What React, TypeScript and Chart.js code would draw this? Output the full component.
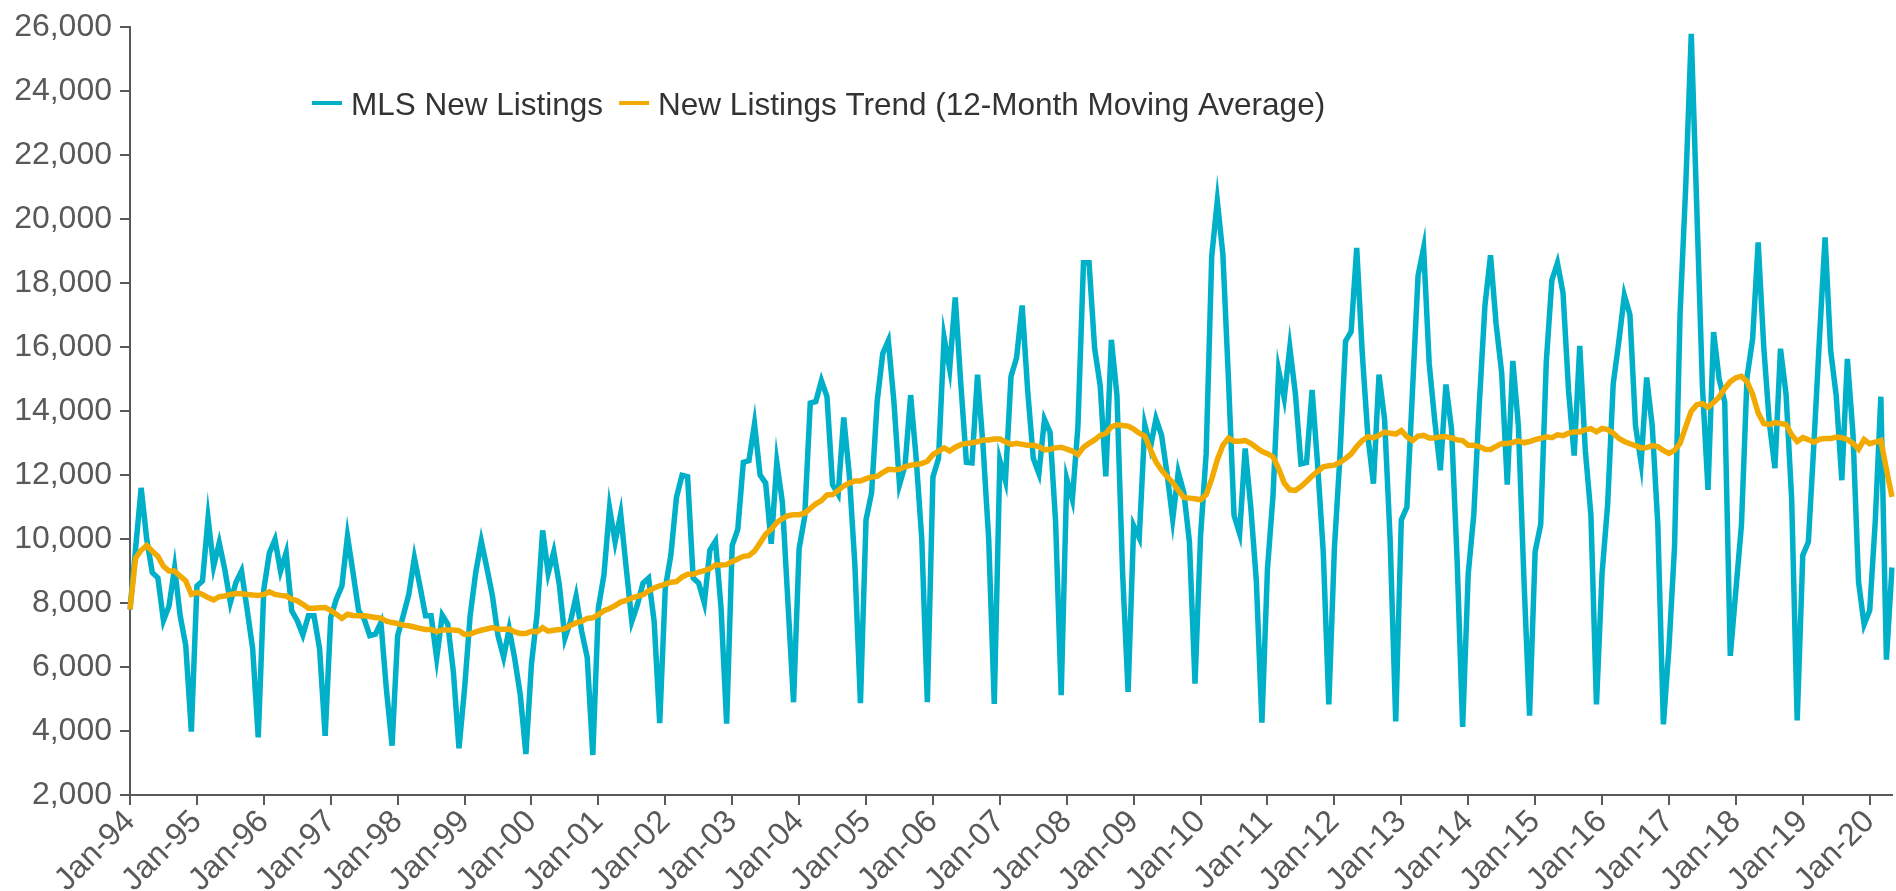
import React, { useEffect, useRef } from 'react';
import { Chart, registerables } from 'chart.js';

Chart.register(...registerables);

// ---------- categories ----------
const MONTHS = ['Jan', 'Feb', 'Mar', 'Apr', 'May', 'Jun', 'Jul', 'Aug', 'Sep', 'Oct', 'Nov', 'Dec'];
const YEAR_SUFFIXES = ['94', '95', '96', '97', '98', '99', '00', '01', '02', '03', '04', '05', '06',
  '07', '08', '09', '10', '11', '12', '13', '14', '15', '16', '17', '18', '19', '20'];

// ---------- MLS New Listings (monthly) ----------
const NL_1994 = [7800, 9700, 11600, 10000, 8950, 8790, 7450, 7910, 9100, 7600, 6670, 3980];
const NL_1995 = [8530, 8690, 10650, 9150, 9880, 9050, 8020, 8640, 9000, 7810, 6570, 3800];
const NL_1996 = [8430, 9570, 9980, 9000, 9570, 7760, 7450, 7000, 7600, 7600, 6570, 3850];
const NL_1997 = [7550, 8120, 8530, 10090, 8950, 7760, 7500, 6980, 7030, 7390, 5270, 3540];
const NL_1998 = [6980, 7600, 8270, 9410, 8530, 7600, 7600, 6280, 7620, 7340, 5840, 3460];
const NL_1999 = [5320, 7600, 8950, 9930, 9100, 8220, 6980, 6310, 7190, 6260, 5120, 3280];
const NL_2000 = [6100, 7640, 10270, 8930, 9600, 8570, 6900, 7430, 8210, 7120, 6300, 3250];
const NL_2001 = [7850, 8880, 10970, 9910, 10790, 9090, 7430, 7950, 8620, 8780, 7430, 4250];
const NL_2002 = [8470, 9500, 11300, 11990, 11950, 8780, 8620, 8000, 9650, 9930, 7850, 4230];
const NL_2003 = [9800, 10300, 12400, 12450, 13600, 12000, 11750, 9850, 12400, 11150, 8000, 4900];
const NL_2004 = [9700, 10700, 14250, 14300, 14950, 14450, 11700, 11400, 13800, 12000, 9200, 4870];
const NL_2005 = [10600, 11450, 14300, 15800, 16200, 14300, 11700, 12300, 14500, 12500, 10000, 4900];
const NL_2006 = [11940, 12520, 16300, 15320, 17550, 14850, 12400, 12380, 15140, 12870, 10000, 4850];
const NL_2007 = [12460, 11820, 15080, 15670, 17300, 14620, 12520, 12050, 13740, 13340, 10540, 5120];
const NL_2008 = [11880, 11240, 13510, 18640, 18640, 15960, 14790, 11960, 16230, 14500, 9000, 5220];
const NL_2009 = [10420, 10040, 13570, 12860, 13760, 13250, 12030, 10620, 12090, 11450, 9910, 5480];
const NL_2010 = [10100, 12670, 18840, 20570, 18900, 15000, 10740, 10170, 12830, 11000, 8690, 4260];
const NL_2011 = [9080, 11390, 15270, 14410, 15990, 14550, 12350, 12390, 14660, 12300, 9600, 4830];
const NL_2012 = [9720, 12600, 16190, 16480, 19100, 15800, 13220, 11730, 15140, 13740, 9960, 4300];
const NL_2013 = [10600, 11000, 14620, 18230, 19100, 15490, 13690, 12150, 14830, 13450, 9370, 4130];
const NL_2014 = [8910, 10770, 14270, 17300, 18870, 16720, 15200, 11700, 15570, 13530, 8700, 4480];
const NL_2015 = [9610, 10460, 15540, 18090, 18630, 17700, 14620, 12610, 16040, 12770, 10760, 4830];
const NL_2016 = [8910, 11070, 14850, 16160, 17620, 17010, 13540, 12380, 15050, 13540, 10460, 4210];
const NL_2017 = [6600, 9760, 17080, 21000, 25790, 20300, 14770, 11540, 16470, 15000, 14290, 6350];
const NL_2018 = [8400, 10440, 15060, 16250, 19270, 16010, 13640, 12220, 15950, 14530, 11270, 4330];
const NL_2019 = [9490, 9910, 13000, 16300, 19430, 15890, 14470, 11840, 15630, 13290, 8660, 7330];
const NL_2020 = [7770, 10560, 14450, 6230, 9110];

// ---------- New Listings Trend (12-month moving average) ----------
const MA_1994 = [7800, 9400, 9650, 9800, 9620, 9460, 9150, 9000, 9000, 8840, 8690, 8270];
const MA_1995 = [8330, 8270, 8170, 8100, 8200, 8220, 8270, 8300, 8290, 8270, 8250, 8240];
const MA_1996 = [8270, 8350, 8270, 8240, 8220, 8120, 8070, 7960, 7840, 7840, 7850, 7860];
const MA_1997 = [7770, 7650, 7520, 7650, 7610, 7600, 7600, 7580, 7550, 7530, 7430, 7390];
const MA_1998 = [7360, 7310, 7290, 7250, 7210, 7170, 7170, 7110, 7160, 7160, 7160, 7140];
const MA_1999 = [7020, 7030, 7100, 7150, 7190, 7230, 7190, 7180, 7190, 7100, 7050, 7050];
const MA_2000 = [7120, 7100, 7230, 7120, 7150, 7170, 7200, 7300, 7380, 7430, 7520, 7540];
const MA_2001 = [7640, 7760, 7830, 7920, 8030, 8080, 8160, 8210, 8260, 8380, 8470, 8540];
const MA_2002 = [8590, 8650, 8670, 8810, 8900, 8900, 8970, 9010, 9080, 9190, 9190, 9200];
const MA_2003 = [9300, 9380, 9460, 9480, 9620, 9880, 10150, 10310, 10520, 10640, 10730, 10760];
const MA_2004 = [10760, 10810, 10960, 11100, 11200, 11380, 11390, 11520, 11660, 11750, 11815, 11815];
const MA_2005 = [11890, 11940, 11960, 12080, 12180, 12170, 12180, 12260, 12310, 12330, 12360, 12430];
const MA_2006 = [12640, 12750, 12850, 12750, 12870, 12950, 12990, 13010, 13040, 13100, 13100, 13130];
const MA_2007 = [13130, 13040, 12960, 12990, 12960, 12930, 12930, 12890, 12790, 12810, 12850, 12870];
const MA_2008 = [12810, 12750, 12640, 12870, 12990, 13100, 13240, 13300, 13510, 13570, 13550, 13530];
const MA_2009 = [13440, 13310, 13220, 12800, 12410, 12160, 11950, 11770, 11520, 11300, 11280, 11260];
const MA_2010 = [11230, 11390, 11880, 12480, 12930, 13160, 13060, 13060, 13080, 12990, 12860, 12740];
const MA_2011 = [12670, 12570, 12200, 11750, 11540, 11520, 11640, 11800, 11970, 12120, 12260, 12290];
const MA_2012 = [12310, 12400, 12520, 12660, 12890, 13080, 13200, 13160, 13240, 13340, 13310, 13280];
const MA_2013 = [13390, 13200, 13080, 13220, 13240, 13160, 13160, 13200, 13200, 13160, 13100, 13080];
const MA_2014 = [12930, 12930, 12890, 12810, 12800, 12900, 12990, 12990, 13020, 13070, 13010, 13050];
const MA_2015 = [13110, 13150, 13200, 13170, 13260, 13230, 13310, 13350, 13350, 13420, 13450, 13350];
const MA_2016 = [13460, 13420, 13310, 13150, 13050, 12980, 12920, 12850, 12860, 12920, 12890, 12770];
const MA_2017 = [12680, 12770, 13000, 13510, 14000, 14200, 14230, 14120, 14270, 14440, 14710, 14920];
const MA_2018 = [15040, 15090, 14920, 14530, 13940, 13610, 13580, 13640, 13610, 13580, 13260, 13050];
const MA_2019 = [13170, 13110, 13030, 13120, 13140, 13140, 13190, 13170, 13110, 12990, 12810, 13110];
const MA_2020 = [12980, 13030, 13080, 12180, 11320];

const NEW_LISTINGS_BY_YEAR = [NL_1994, NL_1995, NL_1996, NL_1997, NL_1998, NL_1999, NL_2000, NL_2001,
  NL_2002, NL_2003, NL_2004, NL_2005, NL_2006, NL_2007, NL_2008, NL_2009, NL_2010, NL_2011, NL_2012,
  NL_2013, NL_2014, NL_2015, NL_2016, NL_2017, NL_2018, NL_2019, NL_2020];
const TREND_BY_YEAR = [MA_1994, MA_1995, MA_1996, MA_1997, MA_1998, MA_1999, MA_2000, MA_2001,
  MA_2002, MA_2003, MA_2004, MA_2005, MA_2006, MA_2007, MA_2008, MA_2009, MA_2010, MA_2011, MA_2012,
  MA_2013, MA_2014, MA_2015, MA_2016, MA_2017, MA_2018, MA_2019, MA_2020];

const LABELS: string[] = YEAR_SUFFIXES.flatMap((yy, i) =>
  NEW_LISTINGS_BY_YEAR[i].map((_, m) => `${MONTHS[m]}-${yy}`));
const NEW_LISTINGS: number[] = NEW_LISTINGS_BY_YEAR.flat();
const TREND: number[] = TREND_BY_YEAR.flat();

const SERIES_NAMES = ['MLS New Listings', 'New Listings Trend (12-Month Moving Average)'];

const Y_MIN = 2000;
const Y_MAX = 26000;
const Y_STEP = 2000;

// ---------- styles ----------
const TEAL = '#00AFC8';
const ORANGE = '#F2A900';
const AXIS = '#595959';
const TICK_TEXT = '#595959';
const LEGEND_TEXT = '#333333';
const FONT = '"Liberation Sans", Arial, Helvetica, sans-serif';

const isJan = (i: number) => typeof LABELS[i] === 'string' && LABELS[i].startsWith('Jan');

const overlayLegend = {
  id: 'overlayLegend',
  afterDraw(chart: any) {
    const ctx = chart.ctx as CanvasRenderingContext2D;
    ctx.save();
    ctx.font = `31.5px ${FONT}`;
    ctx.textBaseline = 'alphabetic';
    ctx.textAlign = 'left';
    let x = 312;
    const yLine = 103;
    const yText = 115;
    chart.data.datasets.forEach((ds: any) => {
      ctx.fillStyle = ds.borderColor;
      ctx.fillRect(x, yLine - 2, 30, 4);
      x += 39;
      ctx.fillStyle = LEGEND_TEXT;
      ctx.fillText(ds.label, x, yText);
      x += ctx.measureText(ds.label).width + 16;
    });
    ctx.restore();
  },
};

export default function App() {
  const canvasRef = useRef<HTMLCanvasElement>(null);

  useEffect(() => {
    const canvas = canvasRef.current;
    if (!canvas) return;
    const chart = new Chart(canvas, {
      type: 'line',
      data: {
        labels: LABELS,
        datasets: [
          {
            label: SERIES_NAMES[0],
            data: NEW_LISTINGS,
            borderColor: TEAL,
            backgroundColor: TEAL,
            borderWidth: 5.5,
            pointRadius: 0,
            pointHoverRadius: 0,
            tension: 0,
            order: 1,
          },
          {
            label: SERIES_NAMES[1],
            data: TREND,
            borderColor: ORANGE,
            backgroundColor: ORANGE,
            borderWidth: 5.5,
            pointRadius: 0,
            pointHoverRadius: 0,
            tension: 0,
            order: 0,
          },
        ],
      },
      options: {
        responsive: false,
        animation: false,
        devicePixelRatio: 1,
        layout: { padding: { top: 21, right: 4, bottom: 0, left: 0 } },
        plugins: {
          legend: { display: false },
          tooltip: { enabled: false },
        },
        scales: {
          x: {
            type: 'category',
            offset: false,
            grid: {
              drawOnChartArea: false,
              drawTicks: true,
              tickLength: 10,
              lineWidth: 2,
              color: (c: any) => (isJan(c.index) ? AXIS : 'rgba(0,0,0,0)'),
            },
            border: { display: true, color: AXIS, width: 2 },
            ticks: {
              autoSkip: false,
              maxRotation: 45,
              minRotation: 45,
              padding: -2,
              color: TICK_TEXT,
              font: { size: 32, family: FONT },
              callback: (_v: any, i: number) => (isJan(i) ? LABELS[i] : ''),
            },
            afterFit: (s: any) => {
              s.height = 96;
              s.paddingLeft = 0;
              s.paddingRight = 0;
            },
          },
          y: {
            min: Y_MIN,
            max: Y_MAX,
            grid: {
              drawOnChartArea: false,
              drawTicks: true,
              tickLength: 10,
              lineWidth: 2,
              color: AXIS,
            },
            border: { display: true, color: AXIS, width: 2 },
            ticks: {
              stepSize: Y_STEP,
              padding: 8,
              color: TICK_TEXT,
              font: { size: 32, family: FONT },
              callback: (v: any) => Number(v).toLocaleString('en-US'),
            },
            afterFit: (s: any) => {
              s.width = 130;
            },
          },
        },
      },
      plugins: [overlayLegend],
    });
    return () => chart.destroy();
  }, []);

  return (
    <div style={{ position: 'fixed', left: 0, top: 0, width: 1896, height: 891, background: '#ffffff' }}>
      <canvas ref={canvasRef} width={1896} height={891} style={{ display: 'block' }} />
    </div>
  );
}
